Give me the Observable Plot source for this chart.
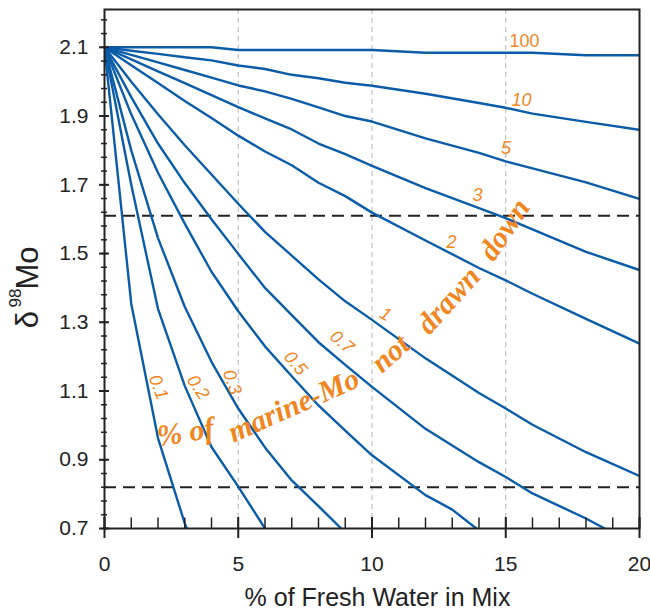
<!DOCTYPE html>
<html><head><meta charset="utf-8">
<script src="https://cdn.jsdelivr.net/npm/d3@7"></script>
<script src="https://cdn.jsdelivr.net/npm/@observablehq/plot@0.6"></script>
<style>html,body{margin:0;padding:0;background:#fff;}</style>
</head><body><div id="chart"></div>
<script>
// ---- data ----
const percentNotDrawnDown = ["100","10","5","3","2","1","0.7","0.5","0.3","0.2","0.1"];
// [% fresh water, δ98Mo]
const curve_100 = [[0,2.100],[4,2.100],[5,2.092],[10,2.092],[12,2.084],[16,2.084],[18,2.077],[20,2.077]];
const curve_10  = [[0,2.100],[1,2.090],[2,2.081],[3,2.071],[4,2.062],[5,2.047],[6,2.037],[7,2.020],[8,2.010],[9,1.997],[10,1.988],[12,1.965],[14,1.938],[15,1.924],[16,1.907],[18,1.883],[20,1.860]];
const curve_5   = [[0,2.100],[1,2.078],[2,2.056],[3,2.034],[4,2.012],[5,1.989],[6,1.972],[7,1.950],[8,1.925],[9,1.900],[10,1.884],[12,1.835],[14,1.793],[15,1.768],[16,1.748],[18,1.707],[20,1.659]];
const curve_3   = [[0,2.100],[1,2.065],[2,2.030],[3,1.996],[4,1.961],[5,1.926],[6,1.893],[7,1.861],[8,1.820],[9,1.789],[10,1.755],[12,1.690],[14,1.632],[15,1.603],[16,1.570],[18,1.505],[20,1.452]];
const curve_2   = [[0,2.100],[1,2.048],[2,1.996],[3,1.944],[4,1.894],[5,1.843],[6,1.797],[7,1.757],[8,1.706],[9,1.667],[10,1.619],[12,1.538],[14,1.458],[15,1.422],[16,1.383],[18,1.310],[20,1.238]];
const curve_1   = [[0,2.100],[1,2.000],[2,1.905],[3,1.815],[4,1.730],[5,1.645],[6,1.563],[7,1.494],[8,1.425],[9,1.361],[10,1.307],[12,1.195],[14,1.094],[15,1.049],[16,1.002],[18,0.922],[20,0.853]];
const curve_07  = [[0,2.100],[1,1.955],[2,1.820],[3,1.705],[4,1.600],[5,1.499],[6,1.400],[7,1.321],[8,1.242],[9,1.176],[10,1.112],[12,0.990],[14,0.893],[15,0.850],[16,0.802],[18,0.729],[18.7,0.700]];
const curve_05  = [[0,2.100],[1,1.905],[2,1.735],[3,1.587],[4,1.447],[5,1.332],[6,1.230],[7,1.143],[8,1.058],[9,0.985],[10,0.913],[12,0.797],[13,0.755],[13.9,0.700]];
const curve_03  = [[0,2.100],[1,1.800],[2,1.545],[3,1.345],[4,1.185],[5,1.049],[6,0.936],[7,0.840],[8,0.765],[8.85,0.700]];
const curve_02  = [[0,2.100],[1,1.700],[2,1.339],[3,1.115],[4,0.937],[5,0.822],[6.0,0.700]];
const curve_01  = [[0,2.100],[1,1.354],[2,0.963],[3,0.715],[3.08,0.700]];
const curves = [curve_100, curve_10, curve_5, curve_3, curve_2, curve_1, curve_07, curve_05, curve_03, curve_02, curve_01];

// label anchor positions (data coordinates)
const curveLabelX = [15.7, 15.59, 15.01, 13.94, 12.97, 10.5, 8.88, 7.14, 4.77, 3.5, 2.02];
const curveLabelY = [2.117, 1.947, 1.806, 1.669, 1.534, 1.323, 1.243, 1.181, 1.126, 1.111, 1.111];

const referenceLevels = [1.61, 0.82];      // dashed horizontal lines
const verticalGuides = [5, 10, 15];        // grey dashed lines
const xMajorTicks = [0, 5, 10, 15, 20];
const xMinorTicks = d3.range(0, 21, 1);
const yMajorTicks = [0.7, 0.9, 1.1, 1.3, 1.5, 1.7, 1.9, 2.1];
const yMinorTicks = d3.range(0, 38).map(i => 0.7 + i * 0.04);

const xTitle = "% of Fresh Water in Mix";
// curved annotation, word by word
const noteWords = ["% of", "marine-Mo", "not", "drawn", "down"];
const noteX = [3.03, 7.07, 10.69, 12.86, 14.95];
const noteY = [0.98, 1.058, 1.209, 1.364, 1.57];

// ---- build tables ----
const rows = curves.flatMap((c, k) => c.map(([x, y]) => ({series: percentNotDrawnDown[k], x, y})));
const labelAngle = [0, 0, 0, 0, 0, 30, 40, 50, 72, 56, 68];
const labelRows = percentNotDrawnDown.map((s, i) => ({s, x: curveLabelX[i], y: curveLabelY[i], a: labelAngle[i]}));
const noteAngle = [-9, -24, -42, -48, -56];
const noteRows = noteWords.map((w, i) => ({w, x: noteX[i], y: noteY[i], a: noteAngle[i]}));

const blue = "#0a5ca8", orange = "#f0861f", ink = "#222";
const sans = "'Liberation Sans', Arial, sans-serif";

const chart = Plot.plot({
  width: 650, height: 611,
  marginLeft: 104, marginRight: 11, marginTop: 9, marginBottom: 83,
  x: {domain: [0, 20], label: null},
  y: {domain: [0.7, 2.21], label: null},
  style: {fontFamily: sans, background: "#fff", color: ink},
  marks: [
    Plot.ruleX(verticalGuides, {stroke: "#b5b5b5", strokeWidth: 1, strokeDasharray: "5,4"}),
    Plot.ruleY(referenceLevels, {stroke: ink, strokeWidth: 2, strokeDasharray: "12,7"}),
    Plot.line(rows, {x: "x", y: "y", z: "series", stroke: blue, strokeWidth: 2.4, clip: true}),
    Plot.text(labelRows.slice(0, 1), {x: "x", y: "y", text: "s", fill: orange, fontSize: 18, textAnchor: "middle", lineAnchor: "middle", fontFamily: sans}),
    Plot.text(labelRows.slice(1), {x: "x", y: "y", text: "s", rotate: "a", fill: orange, fontSize: 18, fontStyle: "italic", textAnchor: "middle", lineAnchor: "middle", fontFamily: sans}),
    Plot.text(noteRows, {x: "x", y: "y", text: "w", rotate: "a", fill: orange, fontSize: 30, fontWeight: "bold", fontStyle: "italic", fontFamily: "'Liberation Serif', 'Times New Roman', serif", textAnchor: "middle", lineAnchor: "middle"}),
    Plot.frame({stroke: ink, strokeWidth: 2}),
    // y ticks (cross the axis)
    Plot.axisY(yMinorTicks, {tickSize: 6, dx: 3, fill: null, stroke: ink, strokeWidth: 1.5, label: null}),
    Plot.axisY(yMajorTicks, {tickSize: 10, dx: 5, fill: null, stroke: ink, strokeWidth: 2, label: null}),
    Plot.axisY(yMajorTicks, {tickSize: 0, tickPadding: 16, tickFormat: d3.format(".1f"), fontSize: 21, fill: ink, label: null}),
    // x ticks
    Plot.axisX(xMinorTicks, {tickSize: 10.5, dy: -10.5, fill: null, stroke: ink, strokeWidth: 1.5, label: null}),
    Plot.axisX(xMajorTicks, {tickSize: 21, dy: -11, fill: null, stroke: ink, strokeWidth: 2, label: null}),
    Plot.axisX(xMajorTicks, {tickSize: 0, tickPadding: 28, tickFormat: d3.format("d"), fontSize: 21, fill: ink, label: null}),
    // axis titles
    Plot.text([xTitle], {frameAnchor: "bottom", text: d => d, dx: 5.5, dy: 69.5, fontSize: 25, textAnchor: "middle", lineAnchor: "middle", fill: ink}),
    Plot.text(["δ"], {frameAnchor: "left", text: d => d, rotate: -90, dx: -76, dy: 50.5, fontSize: 31, textAnchor: "middle", lineAnchor: "middle", fill: ink}),
    Plot.text(["98"], {frameAnchor: "left", text: d => d, rotate: -90, dx: -89, dy: 29, fontSize: 17, textAnchor: "middle", lineAnchor: "middle", fill: ink}),
    Plot.text(["Mo"], {frameAnchor: "left", text: d => d, rotate: -90, dx: -76, dy: -1, fontSize: 31, textAnchor: "middle", lineAnchor: "middle", fill: ink})
  ]
});
document.getElementById("chart").appendChild(chart);
</script>
</body></html>
